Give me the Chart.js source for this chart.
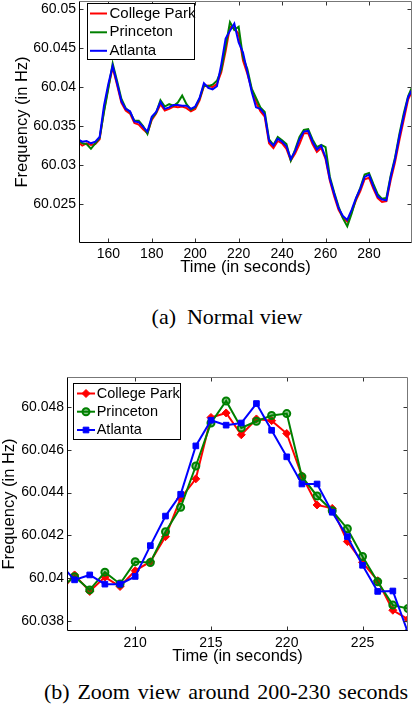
<!DOCTYPE html>
<html>
<head>
<meta charset="utf-8">
<script src="https://cdn.jsdelivr.net/npm/chart.js@4.4.0/dist/chart.umd.min.js"></script>
<style>
html, body { margin: 0; padding: 0; background: #fff; width: 414px; height: 704px; overflow: hidden; }
canvas { position: absolute; left: 0; }
#topChart { top: 0; }
#zoomChart { top: 360px; }
.cap { position: absolute; transform: translateX(-50%); white-space: pre; font-family: 'Liberation Serif', 'Times New Roman', serif; font-size: 22px; line-height: 22px; color: #000; }
</style>
</head>
<body>
<canvas id="topChart" width="414" height="276"></canvas>
<div class="cap" style="left:227px; top:306px">(a)  Normal view</div>
<canvas id="zoomChart" width="414" height="305"></canvas>
<div class="cap" style="left:226px; top:681px; word-spacing:2.3px">(b) Zoom view around 200-230 seconds</div>
<script>
// (a) normal view, read every 2 s
let topTime = [146, 148, 150, 152, 154, 156, 158, 160, 162, 164, 166, 168, 170, 172, 174, 176, 178, 180, 182, 184,
    186, 188, 190, 192, 194, 196, 198, 200, 202, 204, 206, 208, 210, 212, 214, 216, 218, 220, 222, 224,
    226, 228, 230, 232, 234, 236, 238, 240, 242, 244, 246, 248, 250, 252, 254, 256, 258, 260, 262, 264,
    266, 268, 270, 272, 274, 276, 278, 280, 282, 284, 286, 288, 290, 292, 294, 296, 298, 300]

let topCollegePark = [60.0330, 60.0325, 60.0328, 60.0326, 60.0327, 60.0333, 60.0370, 60.0400, 60.0425, 60.0403,
    60.0380, 60.0370, 60.0366, 60.0354, 60.0352, 60.0346, 60.0341, 60.0358, 60.0366, 60.0378,
    60.0370, 60.0372, 60.0375, 60.0374, 60.0375, 60.0373, 60.0369, 60.0372, 60.0383, 60.0401,
    60.0402, 60.0400, 60.0404, 60.0419, 60.0446, 60.0477, 60.0475, 60.0468, 60.0434, 60.0417,
    60.0397, 60.0381, 60.0369, 60.0362, 60.0328, 60.0322, 60.0331, 60.0328, 60.0321, 60.0306,
    60.0315, 60.0327, 60.0341, 60.0341, 60.0327, 60.0317, 60.0322, 60.0308, 60.0280, 60.0260,
    60.0243, 60.0233, 60.0228, 60.0240, 60.0255, 60.0267, 60.0282, 60.0284, 60.0270, 60.0258,
    60.0253, 60.0254, 60.0281, 60.0304, 60.0332, 60.0358, 60.0384, 60.0396]

let topPrinceton = [60.0333, 60.0328, 60.0327, 60.0321, 60.0328, 60.0335, 60.0368, 60.0398, 60.0430, 60.0408,
    60.0385, 60.0373, 60.0368, 60.0357, 60.0357, 60.0350, 60.0340, 60.0360, 60.0367, 60.0383,
    60.0375, 60.0378, 60.0376, 60.0380, 60.0389, 60.0378, 60.0371, 60.0374, 60.0385, 60.0402,
    60.0401, 60.0403, 60.0408, 60.0422, 60.0452, 60.0483, 60.0473, 60.0477, 60.0438, 60.0423,
    60.0398, 60.0386, 60.0374, 60.0368, 60.0333, 60.0326, 60.0336, 60.0332, 60.0327, 60.0306,
    60.0320, 60.0336, 60.0345, 60.0346, 60.0333, 60.0323, 60.0326, 60.0323, 60.0285, 60.0265,
    60.0247, 60.0232, 60.0222, 60.0238, 60.0257, 60.0271, 60.0288, 60.0290, 60.0276, 60.0263,
    60.0257, 60.0258, 60.0287, 60.0310, 60.0340, 60.0366, 60.0388, 60.0401]

let topAtlanta = [60.0333, 60.0330, 60.0331, 60.0328, 60.0330, 60.0336, 60.0376, 60.0404, 60.0427, 60.0405,
    60.0382, 60.0372, 60.0369, 60.0356, 60.0355, 60.0349, 60.0343, 60.0362, 60.0368, 60.0381,
    60.0372, 60.0374, 60.0377, 60.0377, 60.0376, 60.0376, 60.0372, 60.0375, 60.0386, 60.0405,
    60.0399, 60.0397, 60.0401, 60.0429, 60.0462, 60.0472, 60.0481, 60.0457, 60.0444, 60.0419,
    60.0394, 60.0374, 60.0372, 60.0365, 60.0331, 60.0325, 60.0334, 60.0330, 60.0324, 60.0308,
    60.0318, 60.0333, 60.0343, 60.0344, 60.0330, 60.0320, 60.0325, 60.0310, 60.0282, 60.0263,
    60.0245, 60.0235, 60.0230, 60.0243, 60.0258, 60.0270, 60.0285, 60.0288, 60.0273, 60.0260,
    60.0256, 60.0255, 60.0285, 60.0308, 60.0337, 60.0363, 60.0387, 60.0397]

// (b) zoom view, one sample per second
let zoomTime = [205, 206, 207, 208, 209, 210, 211, 212, 213, 214, 215, 216, 217, 218, 219, 220, 221, 222, 223, 224, 225, 226, 227, 228]

let zoomCollegePark = [60.0393, 60.04015, 60.03938, 60.04005, 60.03961, 60.04035, 60.04077, 60.04194, 60.04373, 60.04464,
    60.04751, 60.04772, 60.0467, 60.04744, 60.04736, 60.04676, 60.04478, 60.04342, 60.04326, 60.04171,
    60.04074, 60.03988, 60.0385, 60.03808]

let zoomPrinceton = [60.0395, 60.04007, 60.03945, 60.04028, 60.03973, 60.04077, 60.04073, 60.04217, 60.04331, 60.04524,
    60.04725, 60.04828, 60.04702, 60.04733, 60.0476, 60.04769, 60.04474, 60.04384, 60.04315, 60.04231,
    60.04101, 60.03983, 60.03874, 60.03858]

let zoomAtlanta = [60.0407, 60.03992, 60.04015, 60.03972, 60.03972, 60.04008, 60.04152, 60.0429, 60.04392, 60.04618,
    60.04738, 60.04715, 60.04725, 60.04816, 60.04691, 60.04567, 60.0444, 60.0444, 60.04308, 60.04194,
    60.0406, 60.03938, 60.0394, 60.03745]

let seriesNames = ["College Park", "Princeton", "Atlanta"]
let seriesColors = ["#ff0000", "#008000", "#0000ff"]

Chart.defaults.font.family = "'Liberation Sans', Arial, sans-serif"
Chart.defaults.color = "#000"
Chart.defaults.animation = false

function points(times, vals) {
    return times.map((t, i) => ({ x: t, y: vals[i] }))
}

function tickText(v) {
    return String(+(+v).toFixed(4))
}

// box round the plot with short ticks pointing inwards, like matlab
const frameTicks = {
    id: "frameTicks",
    afterDatasetsDraw(chart, args, o) {
        let ctx = chart.ctx
        let a = chart.chartArea
        let xs = chart.scales.x
        let ys = chart.scales.y
        let l = Math.round(a.left) + 0.5, r = Math.round(a.right) - 0.5
        let t = Math.round(a.top) + 0.5, b = Math.round(a.bottom) - 0.5
        ctx.save()
        ctx.lineWidth = 1
        ctx.strokeStyle = "#333"
        ctx.beginPath()
        xs.ticks.forEach(tk => {
            let p = Math.round(xs.getPixelForValue(tk.value)) + 0.5
            ctx.moveTo(p, b); ctx.lineTo(p, b - o.len)
            ctx.moveTo(p, t); ctx.lineTo(p, t + o.len)
        })
        ys.ticks.forEach(tk => {
            let p = Math.round(ys.getPixelForValue(tk.value)) + 0.5
            ctx.moveTo(l, p); ctx.lineTo(l + o.len, p)
            ctx.moveTo(r, p); ctx.lineTo(r - o.len, p)
        })
        ctx.stroke()
        ctx.strokeStyle = "#777"
        ctx.beginPath()
        ctx.moveTo(l, t); ctx.lineTo(r, t); ctx.lineTo(r, b)
        ctx.stroke()
        ctx.strokeStyle = "#000"
        ctx.beginPath()
        ctx.moveTo(l, t); ctx.lineTo(l, b); ctx.lineTo(r, b)
        ctx.stroke()
        ctx.restore()
    }
}

// legend drawn inside the plot in a white box
const boxLegend = {
    id: "boxLegend",
    afterDatasetsDraw(chart, args, o) {
        let ctx = chart.ctx
        ctx.save()
        ctx.fillStyle = "#fff"
        ctx.fillRect(o.x, o.y, o.w, o.h)
        ctx.strokeStyle = "#000"
        ctx.lineWidth = 1
        ctx.strokeRect(o.x + 0.5, o.y + 0.5, o.w, o.h)
        ctx.font = o.font
        ctx.textBaseline = "middle"
        chart.data.datasets.forEach((ds, i) => {
            let y = o.rowY[i]
            ctx.strokeStyle = ds.borderColor
            ctx.lineWidth = ds.borderWidth
            ctx.beginPath()
            ctx.moveTo(o.lineX0, y)
            ctx.lineTo(o.lineX1, y)
            ctx.stroke()
            if (ds.pointRadius > 0) {
                ctx.fillStyle = ds.pointBackgroundColor
                ctx.strokeStyle = ds.pointBorderColor
                ctx.lineWidth = ds.pointBorderWidth
                Chart.helpers.drawPoint(ctx, {
                    pointStyle: ds.pointStyle, radius: ds.pointRadius,
                    borderWidth: ds.pointBorderWidth, rotation: 0
                }, (o.lineX0 + o.lineX1) / 2, y)
            }
            ctx.fillStyle = "#000"
            ctx.fillText(ds.label, o.textX, y)
        })
        ctx.restore()
    }
}

function axes(xr, yr, yWidth, xHeight, tickPadX, tickPadY, yTitlePad) {
    return {
        x: {
            type: "linear", min: xr[0], max: xr[1],
            grid: { display: false, drawTicks: false },
            border: { display: false },
            ticks: { stepSize: xr[2], includeBounds: false, padding: tickPadX, font: { size: 14 }, maxRotation: 0 },
            title: { display: true, text: "Time (in seconds)", font: { size: 16.5, lineHeight: 1 }, padding: 0 },
            afterFit(s) {
                s.height = xHeight
                s.paddingLeft = 0
                s.paddingRight = 0
            }
        },
        y: {
            min: yr[0], max: yr[1],
            grid: { display: false, drawTicks: false },
            border: { display: false },
            ticks: { stepSize: yr[2], includeBounds: false, padding: tickPadY, font: { size: 14 }, callback: tickText },
            title: { display: true, text: "Frequency (in Hz)", font: { size: 16.5, lineHeight: 1 }, padding: { top: yTitlePad, bottom: 0 } },
            afterFit(s) {
                s.width = yWidth
                s.paddingTop = 0
                s.paddingBottom = 0
            }
        }
    }
}

let topSets = [topCollegePark, topPrinceton, topAtlanta]
new Chart(document.getElementById("topChart"), {
    type: "line",
    data: {
        datasets: topSets.map((vals, i) => ({
            label: seriesNames[i],
            data: points(topTime, vals),
            borderColor: seriesColors[i],
            borderWidth: 2,
            pointRadius: 0,
            tension: 0,
            order: 3 - i
        }))
    },
    options: {
        responsive: false,
        layout: { padding: { top: 1, right: 2, left: 0, bottom: 0 } },
        scales: axes([146.5, 299.8, 20], [60.02005, 60.0510, 0.005], 79, 33, 3, 3, 14),
        plugins: {
            legend: { display: false },
            tooltip: { enabled: false },
            frameTicks: { len: 4 },
            boxLegend: {
                x: 87, y: 3, w: 107, h: 56, font: "15px 'Liberation Sans', Arial, sans-serif",
                rowY: [13.5, 32.3, 50.8], lineX0: 90, lineX1: 107, textX: 109.5
            }
        }
    },
    plugins: [frameTicks, boxLegend]
})

let zoomSets = [zoomCollegePark, zoomPrinceton, zoomAtlanta]
let zoomMarkers = [
    { pointStyle: "rectRot", pointRadius: 4, pointBackgroundColor: "#ff0000", pointBorderWidth: 1 },
    { pointStyle: "circle", pointRadius: 3.5, pointBackgroundColor: "rgba(0,128,0,0.45)", pointBorderWidth: 2 },
    { pointStyle: "rect", pointRadius: 4, pointBackgroundColor: "#0000ff", pointBorderWidth: 1 }
]
new Chart(document.getElementById("zoomChart"), {
    type: "line",
    data: {
        datasets: zoomSets.map((vals, i) => Object.assign({
            label: seriesNames[i],
            data: points(zoomTime, vals),
            borderColor: seriesColors[i],
            pointBorderColor: seriesColors[i],
            borderWidth: 2,
            tension: 0,
            order: 3 - i
        }, zoomMarkers[i]))
    },
    options: {
        responsive: false,
        layout: { padding: { top: 17, right: 2, left: 0, bottom: 0 } },
        scales: axes([205.5, 228, 5], [60.03753, 60.0494, 0.002], 67, 34, 4, 3, 1),
        plugins: {
            legend: { display: false },
            tooltip: { enabled: false },
            frameTicks: { len: 4 },
            boxLegend: {
                x: 73, y: 23, w: 107, h: 56, font: "14.5px 'Liberation Sans', Arial, sans-serif",
                rowY: [33.5, 51.7, 70], lineX0: 77, lineX1: 95, textX: 96.7
            }
        }
    },
    plugins: [frameTicks, boxLegend]
})
</script>
</body>
</html>
